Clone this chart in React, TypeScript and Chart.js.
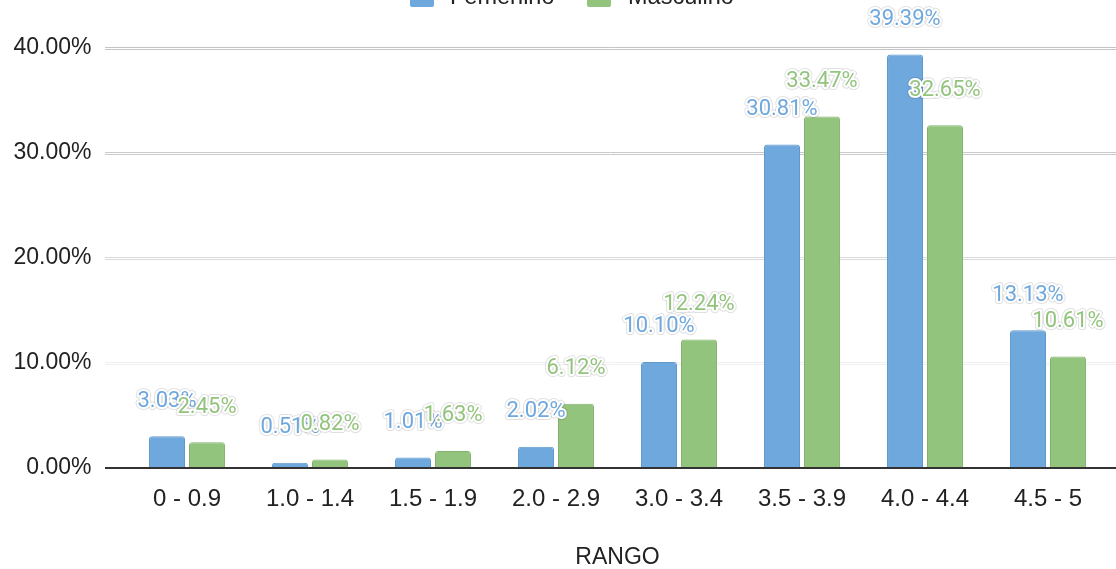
import React, { useEffect, useRef } from "react";
import { Chart, registerables } from "chart.js";

Chart.register(...registerables);

const categories = ["0 - 0.9", "1.0 - 1.4", "1.5 - 1.9", "2.0 - 2.9", "3.0 - 3.4", "3.5 - 3.9", "4.0 - 4.4", "4.5 - 5"];
const femenino = [3.03, 0.51, 1.01, 2.02, 10.1, 30.81, 39.39, 13.13];
const masculino = [2.45, 0.82, 1.63, 6.12, 12.24, 33.47, 32.65, 10.61];
const seriesNames = ["Femenino", "Masculino"];
const yTicks = [0, 10, 20, 30, 40];
const axisTitle = "RANGO";

const BLUE = "#6fa8dc";
const GREEN = "#93c47d";
const OFFSET = 20;
const FONT = "'Liberation Sans', Arial, sans-serif";

export default function App() {
  const ref = useRef<HTMLCanvasElement | null>(null);

  useEffect(() => {
    const canvas = ref.current;
    if (!canvas) return;

    const gridPlugin = {
      id: "gridPlugin",
      beforeDatasetsDraw(chart: any) {
        const ctx = chart.ctx;
        const ys = chart.scales.y;
        const colors: Record<number, string> = { 10: "#f0f0f0", 20: "#dadada", 30: "#cacaca", 40: "#c4c4c4" };
        ctx.save();
        ctx.lineWidth = 1;
        for (const v of yTicks) {
          if (v === 0) continue;
          const y = Math.round(ys.getPixelForValue(v));
          ctx.strokeStyle = colors[v] || "#ccc";
          ctx.beginPath();
          ctx.moveTo(105, y - 0.5);
          ctx.lineTo(chart.width, y - 0.5);
          ctx.moveTo(105, y + 1.5);
          ctx.lineTo(chart.width, y + 1.5);
          ctx.stroke();
        }
        ctx.restore();
      },
      afterDatasetsDraw(chart: any) {
        const ctx = chart.ctx;
        const ys = chart.scales.y;
        const y0 = ys.getPixelForValue(0);
        ctx.save();
        ctx.strokeStyle = "#333333";
        ctx.lineWidth = 2;
        ctx.beginPath();
        ctx.moveTo(105, y0);
        ctx.lineTo(chart.width, y0);
        ctx.stroke();

        ctx.font = "22px Roboto";
        ctx.textAlign = "center";
        ctx.textBaseline = "middle";
        ctx.lineJoin = "round";
        chart.data.datasets.forEach((ds: any, di: number) => {
          const meta = chart.getDatasetMeta(di);
          meta.data.forEach((bar: any, i: number) => {
            const txt = ds.data[i].toFixed(2) + "%";
            const x = bar.x;
            const y = bar.y - 35;
            ctx.strokeStyle = "rgba(0,0,0,0.12)";
            ctx.lineWidth = 6;
            ctx.strokeText(txt, x, y);
            ctx.strokeStyle = "#ffffff";
            ctx.lineWidth = 4;
            ctx.strokeText(txt, x, y);
            ctx.fillStyle = ds.backgroundColor;
            ctx.fillText(txt, x, y);
          });
        });
        ctx.restore();
      },
      afterDraw(chart: any) {
        const ctx = chart.ctx;
        ctx.save();
        const items = [
          { name: seriesNames[0], color: BLUE, box: 410, text: 450 },
          { name: seriesNames[1], color: GREEN, box: 587, text: 628 },
        ];
        ctx.font = "23.5px " + FONT;
        ctx.textBaseline = "alphabetic";
        ctx.textAlign = "left";
        for (const it of items) {
          ctx.fillStyle = it.color;
          ctx.beginPath();
          (ctx as any).roundRect(it.box, -9 + OFFSET, 24, 16, 2);
          ctx.fill();
          ctx.fillStyle = "#222222";
          ctx.fillText(it.name, it.text, 4 + OFFSET);
        }
        ctx.restore();
      },
    };

    const chart = new Chart(canvas, {
      type: "bar",
      data: {
        labels: categories,
        datasets: [
          {
            label: seriesNames[0],
            data: femenino,
            backgroundColor: BLUE,
            borderColor: "#5f98cc",
            borderWidth: 1,
            borderRadius: 3,
            borderSkipped: "bottom",
            barPercentage: 0.9,
            categoryPercentage: 0.65,
          },
          {
            label: seriesNames[1],
            data: masculino,
            backgroundColor: GREEN,
            borderColor: "#82b36c",
            borderWidth: 1,
            borderRadius: 3,
            borderSkipped: "bottom",
            barPercentage: 0.9,
            categoryPercentage: 0.65,
          },
        ],
      },
      options: {
        responsive: false,
        animation: false,
        layout: { padding: { top: 48 + OFFSET, right: 6.5, left: 0, bottom: 0 } },
        plugins: {
          legend: { display: false },
          tooltip: { enabled: false },
        },
        scales: {
          x: {
            grid: { display: false },
            border: { display: false },
            ticks: {
              color: "#222222",
              font: { family: FONT, size: 24 },
              padding: 9,
              maxRotation: 0,
            },
            title: {
              display: true,
              text: axisTitle,
              color: "#222222",
              font: { family: FONT, size: 23, lineHeight: 1.0 },
              padding: { top: 0, bottom: 0 },
            },
            afterFit: (s: any) => {
              s.height = 101;
            },
          },
          y: {
            min: 0,
            max: 40,
            grid: { display: false },
            border: { display: false },
            ticks: {
              stepSize: 10,
              color: "#222222",
              font: { family: FONT, size: 23 },
              padding: 26,
              callback: (v: any) => Number(v).toFixed(2) + "%",
            },
            afterFit: (s: any) => {
              s.width = 125.5;
            },
          },
        },
      },
      plugins: [gridPlugin],
    });

    return () => chart.destroy();
  }, []);

  return (
    <div style={{ position: "absolute", left: 0, top: -OFFSET, width: 1116, height: 569 + OFFSET, overflow: "hidden" }}>
      <canvas ref={ref} width={1116} height={569 + OFFSET} style={{ display: "block" }} />
    </div>
  );
}
